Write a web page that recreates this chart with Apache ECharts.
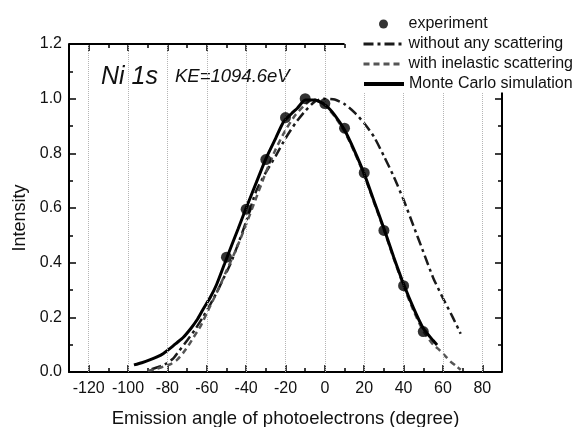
<!DOCTYPE html>
<html>
<head>
<meta charset="utf-8">
<script src="https://cdn.jsdelivr.net/npm/echarts@6/dist/echarts.min.js"></script>
<style>
html,body{margin:0;padding:0;background:#fff;}
#c{width:573px;height:427px;}
</style>
</head>
<body>
<div id="c"></div>
<script>
// ---- data ----
const expAngle = [-50,-40,-30,-20,-10,0,10,20,30,40,50];
const expIntensity = [0.42,0.595,0.777,0.931,1.0,0.982,0.892,0.729,0.518,0.316,0.148];

const noScatAngle = [-88,-84,-80,-77,-74,-70,-66,-62,-58,-55,-52,-48,-44,-40,-35,-30,-25,-20,-15,-10,-5,0,5,10,15,20,25,30,35,40,45,50,55,60,65,69];
const noScatIntensity = [0.01,0.02,0.033,0.05,0.078,0.115,0.155,0.2,0.25,0.29,0.335,0.395,0.47,0.55,0.66,0.73,0.79,0.855,0.91,0.955,0.99,1.0,0.997,0.98,0.95,0.91,0.86,0.79,0.715,0.63,0.535,0.44,0.345,0.27,0.2,0.14];

const inelAngle = [-90,-86,-82,-78,-75,-72,-69,-66,-63,-60,-57,-53,-50,-45,-40,-35,-30,-25,-20,-15,-10,-6,0,5,10,15,20,25,30,35,40,45,50,55,58,61,64,67,69];
const inelIntensity = [0.005,0.01,0.02,0.03,0.045,0.07,0.1,0.135,0.17,0.215,0.26,0.32,0.37,0.45,0.54,0.635,0.73,0.815,0.885,0.94,0.978,0.998,0.975,0.935,0.88,0.805,0.72,0.62,0.52,0.415,0.315,0.225,0.15,0.1,0.082,0.06,0.037,0.02,0.008];

const mcAngle = [-97,-93,-89,-85,-82,-78,-75,-72,-68,-65,-62,-58,-55,-51,-47,-44,-40,-35,-30,-25,-21,-17,-14,-10,-5,0,5,10,15,20,25,30,35,40,45,50,55,57];
const mcIntensity = [0.026,0.034,0.044,0.056,0.068,0.09,0.108,0.126,0.16,0.19,0.228,0.276,0.32,0.395,0.47,0.525,0.6,0.69,0.78,0.855,0.915,0.945,0.965,0.995,0.995,0.978,0.94,0.885,0.81,0.725,0.625,0.525,0.42,0.322,0.235,0.16,0.115,0.099];

// tick positions
const xMajorTicks = [-120,-100,-80,-60,-40,-20,0,20,40,60,80];
const xMajorTicksTop = [-120,-100,-80,-60,-40,-20,0];
const xMinorTicksTop = [-110,-90,-70,-50,-30,-10,10];
const yMajorTicksRight = [0,0.2,0.4,0.6,0.8,1.0];
const yMinorTicksRight = [0.1,0.3,0.5,0.7,0.9];
const seriesNames = ['experiment','without any scattering','with inelastic scattering','Monte Carlo simulation'];

const zip = (a, b) => a.map((v, i) => [v, b[i]]);
const FONT = '"Liberation Sans", Arial, sans-serif';
const X_MIN = -130, X_MAX = 90, Y_MIN = 0, Y_MAX = 1.2;
// the legend box cuts the frame's top-right corner (as in the reference)
const CUT_X = 10, CUT_Y = 1.023;

const chart = echarts.init(document.getElementById('c'), null, {renderer: 'canvas'});

function xAxisDef(pos, tickLen, custom, showLine) {
  const ax = {
    type: 'value', gridIndex: 0, position: pos, min: X_MIN, max: X_MAX, interval: 10,
    axisLine: {show: showLine, onZero: false, lineStyle: {color: '#000', width: 2}},
    axisTick: {show: true, inside: true, length: tickLen, lineStyle: {color: '#000', width: 1.5}},
    axisLabel: {show: false},
    splitLine: {show: false}
  };
  if (custom) ax.axisTick.customValues = custom;
  return ax;
}

const xMain = xAxisDef('bottom', 4, null, true);
xMain.axisLabel = {
  show: true, margin: 9, color: '#111', fontSize: 16, fontFamily: FONT,
  formatter: v => (v % 20 === 0 ? String(v) : '')
};
xMain.name = 'Emission angle of photoelectrons (degree)';
xMain.nameLocation = 'middle';
xMain.nameGap = 37;
xMain.nameTextStyle = {fontSize: 18.5, color: '#111', fontFamily: FONT};

const xMajorBottom = xAxisDef('bottom', 7, xMajorTicks, false);
const xTopMinor = xAxisDef('top', 4, xMinorTicksTop, false);
const xTopMajor = xAxisDef('top', 7, xMajorTicksTop, false);

function yAxisDef(pos, showLabels, showLine, tickLen, custom, minor) {
  const ax = {
    type: 'value', position: pos, min: Y_MIN, max: Y_MAX, interval: 0.2,
    axisLine: {show: showLine, onZero: false, lineStyle: {color: '#000', width: 2}},
    axisTick: {show: true, inside: true, length: tickLen, lineStyle: {color: '#000', width: 1.5}},
    minorTick: {show: minor, splitNumber: 2, length: 4, lineStyle: {color: '#000', width: 1.5}},
    axisLabel: {show: showLabels, margin: 7, color: '#111', fontSize: 16, fontFamily: FONT,
      formatter: v => v.toFixed(1)},
    splitLine: {show: false},
    minorSplitLine: {show: false}
  };
  if (custom) ax.axisTick.customValues = custom;
  return ax;
}
const yLeft = yAxisDef('left', true, true, 7, null, true);
yLeft.name = 'Intensity';
yLeft.nameLocation = 'middle';
yLeft.nameGap = 39;
yLeft.nameTextStyle = {fontSize: 18, color: '#111', fontFamily: FONT, padding: [0, 20, 0, 0]};
const yRightMajor = yAxisDef('right', false, false, 7, yMajorTicksRight, false);
const yRightMinor = yAxisDef('right', false, false, 4, yMinorTicksRight, false);

const legendTops = [16, 36, 56, 76];
const legendLefts = [379, 362, 362, 362];
const legendWidths = [0, 3, 3, 4];
const legends = seriesNames.map((n, i) => {
  const item = {name: n};
  if (i === 0) {
    item.icon = 'circle';
  } else {
    item.itemStyle = {color: 'rgba(0,0,0,0)', borderWidth: 0, opacity: 0};
    item.lineStyle = {width: legendWidths[i]};
  }
  return {
    data: [item], left: legendLefts[i], top: legendTops[i], padding: 0, z: 10,
    itemWidth: 40, itemHeight: 9, selectedMode: false, symbolKeepAspect: true,
    textStyle: {fontSize: 16, color: '#111', fontFamily: FONT}
  };
});

const option = {
  backgroundColor: '#fff',
  animation: false,
  grid: {show: false, left: 69, right: 71, top: 44, bottom: 55, containLabel: false, outerBoundsMode: 'none'},
  legend: legends,
  xAxis: [xMain, xMajorBottom, xTopMinor, xTopMajor],
  yAxis: [yLeft, yRightMajor, yRightMinor],
  graphic: [
    {type: 'text', left: 101, top: 65, style: {text: 'Ni 1s', fontSize: 25, fontStyle: 'italic', fontFamily: FONT, fill: '#111'}},
    {type: 'text', left: 175, top: 67, style: {text: 'KE=1094.6eV', fontSize: 18.5, fontStyle: 'italic', fontFamily: FONT, fill: '#111'}}
  ],
  series: [
    {
      name: 'gridlines', type: 'line', data: [], xAxisIndex: 0, yAxisIndex: 0, z: 1, silent: true,
      markLine: {
        silent: true, symbol: ['none', 'none'], label: {show: false},
        lineStyle: {type: 'dotted', color: '#b5b5b5', width: 1},
        data: xMajorTicks.map(v => [{coord: [v, Y_MIN]}, {coord: [v, v > CUT_X ? CUT_Y : Y_MAX]}])
      }
    },
    {
      name: 'frame', type: 'line', data: [], xAxisIndex: 0, yAxisIndex: 0, z: 6, silent: true,
      markLine: {
        silent: true, symbol: ['none', 'none'], label: {show: false},
        lineStyle: {type: 'solid', color: '#000', width: 2},
        data: [
          [{coord: [X_MIN, Y_MAX]}, {coord: [CUT_X, Y_MAX]}],
          [{coord: [X_MAX, Y_MIN]}, {coord: [X_MAX, CUT_Y]}]
        ]
      }
    },
    {
      name: seriesNames[1], type: 'line', data: zip(noScatAngle, noScatIntensity), xAxisIndex: 0, yAxisIndex: 0,
      symbol: 'none', smooth: 0.2, z: 3, color: '#1a1a1a',
      lineStyle: {color: '#1a1a1a', width: 2.5, type: [10, 4, 3, 4]}
    },
    {
      name: seriesNames[2], type: 'line', data: zip(inelAngle, inelIntensity), xAxisIndex: 0, yAxisIndex: 0,
      symbol: 'none', smooth: 0.2, z: 3, color: '#555',
      lineStyle: {color: '#555', width: 2.5, type: [6, 4]}
    },
    {
      name: seriesNames[3], type: 'line', data: zip(mcAngle, mcIntensity), xAxisIndex: 0, yAxisIndex: 0,
      symbol: 'none', smooth: 0.2, z: 4, color: '#000',
      lineStyle: {color: '#000', width: 3}
    },
    {
      name: seriesNames[0], type: 'scatter', data: zip(expAngle, expIntensity), xAxisIndex: 0, yAxisIndex: 0,
      symbol: 'circle', symbolSize: 11, z: 5, itemStyle: {color: '#000'}
    }
  ]
};
chart.setOption(option);
</script>
</body>
</html>
